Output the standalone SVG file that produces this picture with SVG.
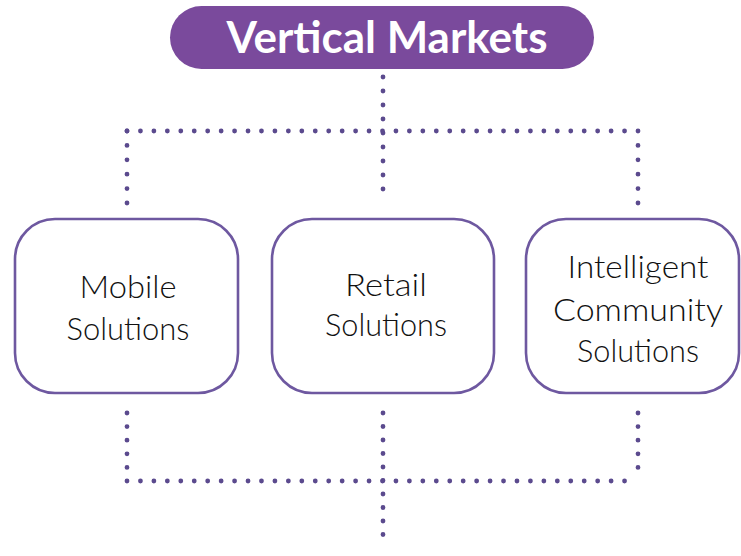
<svg xmlns="http://www.w3.org/2000/svg" width="741" height="556" viewBox="0 0 741 556">
<style>
.box{fill:#ffffff;stroke:#6e58a0;stroke-width:2.6}
.lbl{font-family:Lato,"Liberation Sans",sans-serif;font-size:32px;font-weight:300;fill:#111111;text-anchor:middle}
.title{font-family:Lato,"Liberation Sans",sans-serif;font-size:43px;font-weight:bold;fill:#ffffff;text-anchor:middle}
.dot{stroke:#5b4a8e;stroke-width:4.8;stroke-linecap:round;stroke-dasharray:0 1;fill:none}
</style>
<rect width="741" height="556" fill="#ffffff"/>
<g id="connectors">
<line class="dot" x1="383" y1="77" x2="383" y2="203" pathLength="9"/>
<line class="dot" x1="127" y1="131" x2="638" y2="131" pathLength="38"/>
<line class="dot" x1="127" y1="131" x2="127" y2="203" pathLength="5"/>
<line class="dot" x1="638" y1="131" x2="638" y2="203" pathLength="5"/>
<line class="dot" x1="127" y1="413" x2="127" y2="481" pathLength="5"/>
<line class="dot" x1="638" y1="413" x2="638" y2="481" pathLength="5"/>
<line class="dot" x1="127" y1="481" x2="638" y2="481" pathLength="38"/>
<line class="dot" x1="383" y1="413" x2="383" y2="548" pathLength="10"/>
</g>
<g id="vertical-markets">
<rect x="170" y="6" width="424" height="63" rx="31.5" fill="#7a4a9c"/>
<text class="title" x="387" y="53" textLength="321" lengthAdjust="spacingAndGlyphs">Vertical Markets</text>
</g>
<g id="mobile">
<rect class="box" x="15" y="219" width="223" height="174" rx="40"/>
<text class="lbl" x="128" y="298" textLength="97" lengthAdjust="spacingAndGlyphs">Mobile</text>
<text class="lbl" x="128" y="340" textLength="123" lengthAdjust="spacingAndGlyphs">Solutions</text>
</g>
<g id="retail">
<rect class="box" x="272" y="219" width="222" height="174" rx="40"/>
<text class="lbl" x="386" y="296" textLength="82" lengthAdjust="spacingAndGlyphs">Retail</text>
<text class="lbl" x="386" y="336" textLength="122" lengthAdjust="spacingAndGlyphs">Solutions</text>
</g>
<g id="intelligent">
<rect class="box" x="526" y="219" width="213" height="174" rx="40"/>
<text class="lbl" x="638" y="278" textLength="141" lengthAdjust="spacingAndGlyphs">Intelligent</text>
<text class="lbl" x="638" y="321" textLength="170" lengthAdjust="spacingAndGlyphs">Community</text>
<text class="lbl" x="638" y="362" textLength="122" lengthAdjust="spacingAndGlyphs">Solutions</text>
</g>
</svg>
